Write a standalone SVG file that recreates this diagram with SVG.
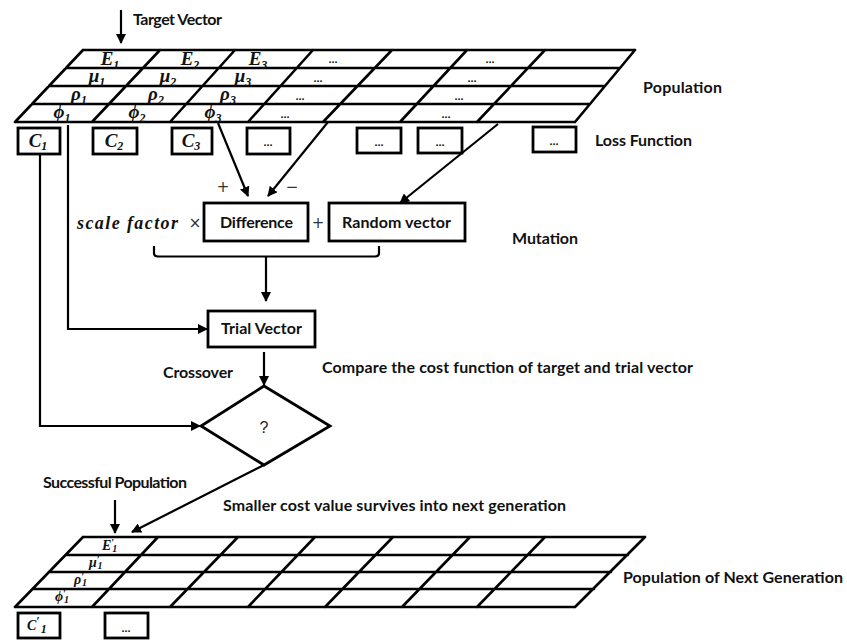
<svg xmlns="http://www.w3.org/2000/svg" width="847" height="640" viewBox="0 0 847 640">
<defs>
<marker id="ah" viewBox="0 0 10 10" refX="9" refY="5" markerWidth="10" markerHeight="10" markerUnits="userSpaceOnUse" orient="auto">
<path d="M0,0 L10,5 L0,10 Z" fill="#000"/>
</marker>
<style>
.g{fill:none;stroke:#000;stroke-width:2.6;stroke-linecap:round;stroke-linejoin:round}
.bx{fill:#fff;stroke:#000;stroke-width:2.8}
.c{fill:none;stroke:#000;stroke-width:2.2}
.a{fill:none;stroke:#000;stroke-width:2.2;marker-end:url(#ah)}
.lb{font-family:Lato,"Liberation Sans",sans-serif;font-weight:700;font-size:16px;fill:#111}
.bt{font-family:Lato,"Liberation Sans",sans-serif;font-weight:700;font-size:16px;fill:#111}
.m{font-family:"Liberation Serif",serif;font-style:italic;font-weight:700;font-size:19px;fill:#111;text-anchor:middle}
.mp{font-family:"Liberation Serif",serif;font-style:italic;font-weight:700;font-size:14px;fill:#111}
.s{font-size:12px}
.t{font-size:10px}
.d{font-family:"Liberation Sans",sans-serif;font-weight:700;font-size:11px;fill:#111;text-anchor:middle}
.op{font-family:"DejaVu Sans",sans-serif;font-size:15px;fill:#333;text-anchor:middle}
</style>
</defs>
<rect width="847" height="640" fill="#fff"/>

<g id="population">
<path class="g" d="M83,50 L635,50 M66,68 L620,68 M49,86 L605,86 M32,104 L590,104 M15,122 L575,122 M83,50 L15,122 M635,50 L575,122 M160,50 L92,122 M235,50 L170,122 M313,50 L248,122 M392,50 L323,122 M467,50 L400,122 M545,50 L477,122"/>
<text class="m" x="110" y="65">E<tspan class="s" dy="4">1</tspan></text>
<text class="m" x="190" y="65">E<tspan class="s" dy="4">2</tspan></text>
<text class="m" x="258" y="65">E<tspan class="s" dy="4">3</tspan></text>
<text class="d" x="333" y="63">...</text>
<text class="d" x="490" y="63">...</text>
<text class="m" x="97" y="82">μ<tspan class="s" dy="4">1</tspan></text>
<text class="m" x="168" y="82">μ<tspan class="s" dy="4">2</tspan></text>
<text class="m" x="243" y="82">μ<tspan class="s" dy="4">3</tspan></text>
<text class="d" x="318" y="82">...</text>
<text class="d" x="472" y="82">...</text>
<text class="m" x="79" y="100">ρ<tspan class="s" dy="4">1</tspan></text>
<text class="m" x="156" y="100">ρ<tspan class="s" dy="4">2</tspan></text>
<text class="m" x="228" y="100">ρ<tspan class="s" dy="4">3</tspan></text>
<text class="d" x="300" y="100">...</text>
<text class="d" x="459" y="100">...</text>
<text class="m" x="62" y="118">ϕ<tspan class="s" dy="4">1</tspan></text>
<text class="m" x="137" y="118">ϕ<tspan class="s" dy="4">2</tspan></text>
<text class="m" x="213" y="118">ϕ<tspan class="s" dy="4">3</tspan></text>
<text class="d" x="285" y="118">...</text>
<text class="d" x="446" y="118">...</text>
</g>

<g id="loss-boxes">
<rect class="bx" x="18" y="128" width="42" height="26"/>
<text class="m" x="38" y="147">C<tspan class="s" dy="3">1</tspan></text>
<rect class="bx" x="93" y="128" width="44" height="26"/>
<text class="m" x="114" y="147">C<tspan class="s" dy="3">2</tspan></text>
<rect class="bx" x="172" y="128" width="40" height="26"/>
<text class="m" x="191" y="147">C<tspan class="s" dy="3">3</tspan></text>
<rect class="bx" x="247" y="128" width="43" height="26"/>
<text class="d" x="268" y="146">...</text>
<rect class="bx" x="357" y="128" width="44" height="25"/>
<text class="d" x="379" y="146">...</text>
<rect class="bx" x="418" y="128" width="44" height="25"/>
<text class="d" x="440" y="146">...</text>
<rect class="bx" x="533" y="127" width="43" height="25"/>
<text class="d" x="554" y="145">...</text>
</g>

<g id="labels">
<text class="lb" x="133" y="25" textLength="89">Target Vector</text>
<text class="lb" x="643" y="93" textLength="79">Population</text>
<text class="lb" x="595" y="146" textLength="97">Loss Function</text>
<text class="lb" x="512" y="244" textLength="66">Mutation</text>
<text class="lb" x="163" y="378" textLength="70">Crossover</text>
<text class="lb" x="322" y="373" textLength="371">Compare the cost function of target and trial vector</text>
<text class="lb" x="43" y="488" textLength="144">Successful Population</text>
<text class="lb" x="223" y="511" textLength="343">Smaller cost value survives into next generation</text>
<text class="lb" x="623" y="583" textLength="220">Population of Next Generation</text>
</g>

<g id="mutation">
<text x="77" y="229" textLength="101" font-family="'Liberation Serif',serif" font-style="italic" font-weight="700" font-size="18" fill="#111">scale factor</text>
<text class="op" x="195" y="228">×</text>
<text class="op" x="223" y="192">+</text>
<text class="op" x="292" y="192">−</text>
<text class="op" x="318" y="228">+</text>
</g>

<g id="difference">
<rect class="bx" x="204" y="203" width="104" height="38"/>
<text class="bt" x="220" y="228" textLength="73">Difference</text>
</g>

<g id="random-vector">
<rect class="bx" x="329" y="203" width="136" height="38"/>
<text class="bt" x="342" y="228" textLength="109">Random vector</text>
</g>

<g id="trial-vector">
<rect class="bx" x="208" y="311" width="107" height="36"/>
<text class="bt" x="221" y="334" textLength="81">Trial Vector</text>
</g>

<g id="decision">
<path class="bx" d="M264,386 L330,426 L264,465 L201,426 Z"/>
<text x="264" y="433" font-family="'Liberation Sans',sans-serif" font-size="16" fill="#222" text-anchor="middle">?</text>
</g>

<g id="next-population">
<path class="g" d="M83,537 L645,537 M66,555 L628,555 M50,572 L611,572 M33,589 L594,589 M15,607 L575,607 M83,537 L15,607 M645,537 L575,607 M158,537 L92,607 M238,537 L170,607 M315,537 L248,607 M393,537 L325,607 M470,537 L402,607 M545,537 L477,607"/>
<text class="mp" x="102" y="550">E<tspan class="t" dy="-4">′</tspan><tspan class="t" dx="-2" dy="6">1</tspan></text>
<text class="mp" x="89" y="567">μ<tspan class="t" dy="-4">′</tspan><tspan class="t" dx="-2" dy="6">1</tspan></text>
<text class="mp" x="74" y="584">ρ<tspan class="t" dy="-4">′</tspan><tspan class="t" dx="-2" dy="6">1</tspan></text>
<text class="mp" x="55" y="601">ϕ<tspan class="t" dy="-4">′</tspan><tspan class="t" dx="-2" dy="6">1</tspan></text>
</g>

<g id="next-loss-boxes">
<rect class="bx" x="18" y="613" width="42" height="25"/>
<text class="mp" x="27" y="630" font-size="16">C<tspan class="s" dy="-5">′</tspan><tspan class="s" dx="1" dy="8">1</tspan></text>
<rect class="bx" x="105" y="613" width="43" height="25"/>
<text class="d" x="126" y="632">...</text>
</g>

<g id="connectors">
<line class="a" x1="121" y1="10" x2="121" y2="43"/>
<line class="a" x1="218" y1="123" x2="248" y2="196"/>
<line class="a" x1="328" y1="122" x2="268" y2="196"/>
<line class="a" x1="498" y1="124" x2="400" y2="203"/>
<path class="c" d="M154,246 L154,253 Q154,256.5 158,256.5 L375,256.5 Q379,256.5 379,253 L379,246"/>
<line class="a" x1="266" y1="256" x2="266" y2="301"/>
<path class="a" d="M68,125 L68,329 L207,329"/>
<path class="a" d="M40,154 L40,426 L200,426"/>
<line class="a" x1="264" y1="352" x2="264" y2="385"/>
<line class="a" x1="264" y1="465" x2="132" y2="532"/>
<line class="a" x1="115" y1="500" x2="115" y2="533"/>
</g>
</svg>
